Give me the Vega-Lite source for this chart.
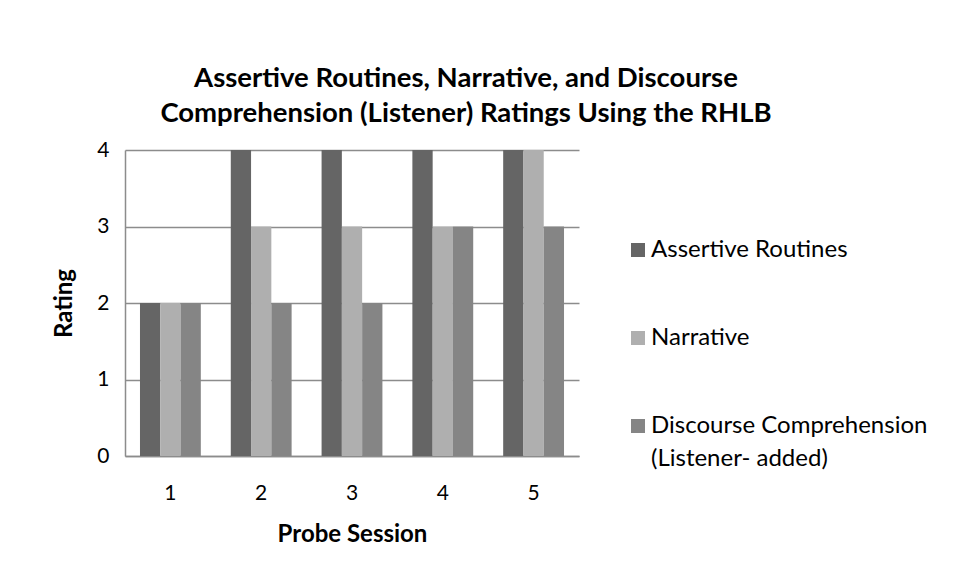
{
  "$schema": "https://vega.github.io/schema/vega-lite/v6.json",
  "width": 454,
  "height": 306,
  "padding": {"left": 52, "top": 64, "right": 5, "bottom": 5},
  "background": "white",
  "title": {
    "text": ["Assertive Routines, Narrative, and Discourse", "Comprehension (Listener) Ratings Using the RHLB"],
    "font": "Lato",
    "fontSize": 27.5,
    "fontWeight": "bold",
    "color": "black",
    "anchor": "middle",
    "frame": "group",
    "dx": 114,
    "offset": 12,
    "lineHeight": 35
  },
  "data": {
    "values": [
      {"session": "1", "series": "Assertive Routines", "rating": 2},
      {"session": "1", "series": "Narrative", "rating": 2},
      {"session": "1", "series": "Discourse Comprehension (Listener- added)", "rating": 2},
      {"session": "2", "series": "Assertive Routines", "rating": 4},
      {"session": "2", "series": "Narrative", "rating": 3},
      {"session": "2", "series": "Discourse Comprehension (Listener- added)", "rating": 2},
      {"session": "3", "series": "Assertive Routines", "rating": 4},
      {"session": "3", "series": "Narrative", "rating": 3},
      {"session": "3", "series": "Discourse Comprehension (Listener- added)", "rating": 2},
      {"session": "4", "series": "Assertive Routines", "rating": 4},
      {"session": "4", "series": "Narrative", "rating": 3},
      {"session": "4", "series": "Discourse Comprehension (Listener- added)", "rating": 3},
      {"session": "5", "series": "Assertive Routines", "rating": 4},
      {"session": "5", "series": "Narrative", "rating": 4},
      {"session": "5", "series": "Discourse Comprehension (Listener- added)", "rating": 3}
    ]
  },
  "mark": {"type": "bar"},
  "encoding": {
    "x": {
      "field": "session",
      "type": "nominal",
      "scale": {"paddingInner": 0.33, "paddingOuter": 0.165},
      "axis": {
        "title": "Probe Session",
        "titleFont": "Lato",
        "titleFontSize": 24,
        "titleFontWeight": "bold",
        "titleColor": "black",
        "titlePadding": 19,
        "labelFont": "Lato",
        "labelFontSize": 21,
        "labelColor": "black",
        "labelAngle": 0,
        "labelPadding": 26,
        "ticks": false,
        "domainColor": "#8c8c8c",
        "domainWidth": 1.5
      }
    },
    "xOffset": {
      "field": "series",
      "sort": ["Assertive Routines", "Narrative", "Discourse Comprehension (Listener- added)"]
    },
    "y": {
      "field": "rating",
      "type": "quantitative",
      "scale": {"domain": [0, 4]},
      "axis": {
        "title": "Rating",
        "titleFont": "Lato",
        "titleFontSize": 24,
        "titleFontWeight": "bold",
        "titleColor": "black",
        "titlePadding": 20,
        "labelFont": "Lato",
        "labelFontSize": 21,
        "labelColor": "black",
        "labelPadding": 16,
        "values": [0, 1, 2, 3, 4],
        "ticks": false,
        "domainColor": "#8c8c8c",
        "domainWidth": 1.5,
        "gridColor": "#8c8c8c",
        "gridWidth": 1.5
      }
    },
    "color": {
      "field": "series",
      "type": "nominal",
      "sort": ["Assertive Routines", "Narrative", "Discourse Comprehension (Listener- added)"],
      "scale": {
        "domain": ["Assertive Routines", "Narrative", "Discourse Comprehension (Listener- added)"],
        "range": ["#656565", "#afafaf", "#858585"]
      },
      "legend": {
        "title": null,
        "orient": "none",
        "legendX": 501,
        "legendY": 88,
        "labelFont": "Lato",
        "labelFontSize": 24,
        "labelColor": "black",
        "labelLimit": 400,
        "symbolType": "square",
        "symbolSize": 196,
        "symbolStrokeWidth": 0,
        "symbolOffset": 0,
        "labelOffset": 1,
        "rowPadding": 64,
        "labelExpr": "datum.label == 'Discourse Comprehension (Listener- added)' ? ['Discourse Comprehension', '(Listener- added)'] : datum.label"
      }
    }
  },
  "config": {
    "view": {"stroke": null},
    "axis": {"gridOpacity": 1},
    "style": {"guide-label": {"lineHeight": 33}}
  }
}
